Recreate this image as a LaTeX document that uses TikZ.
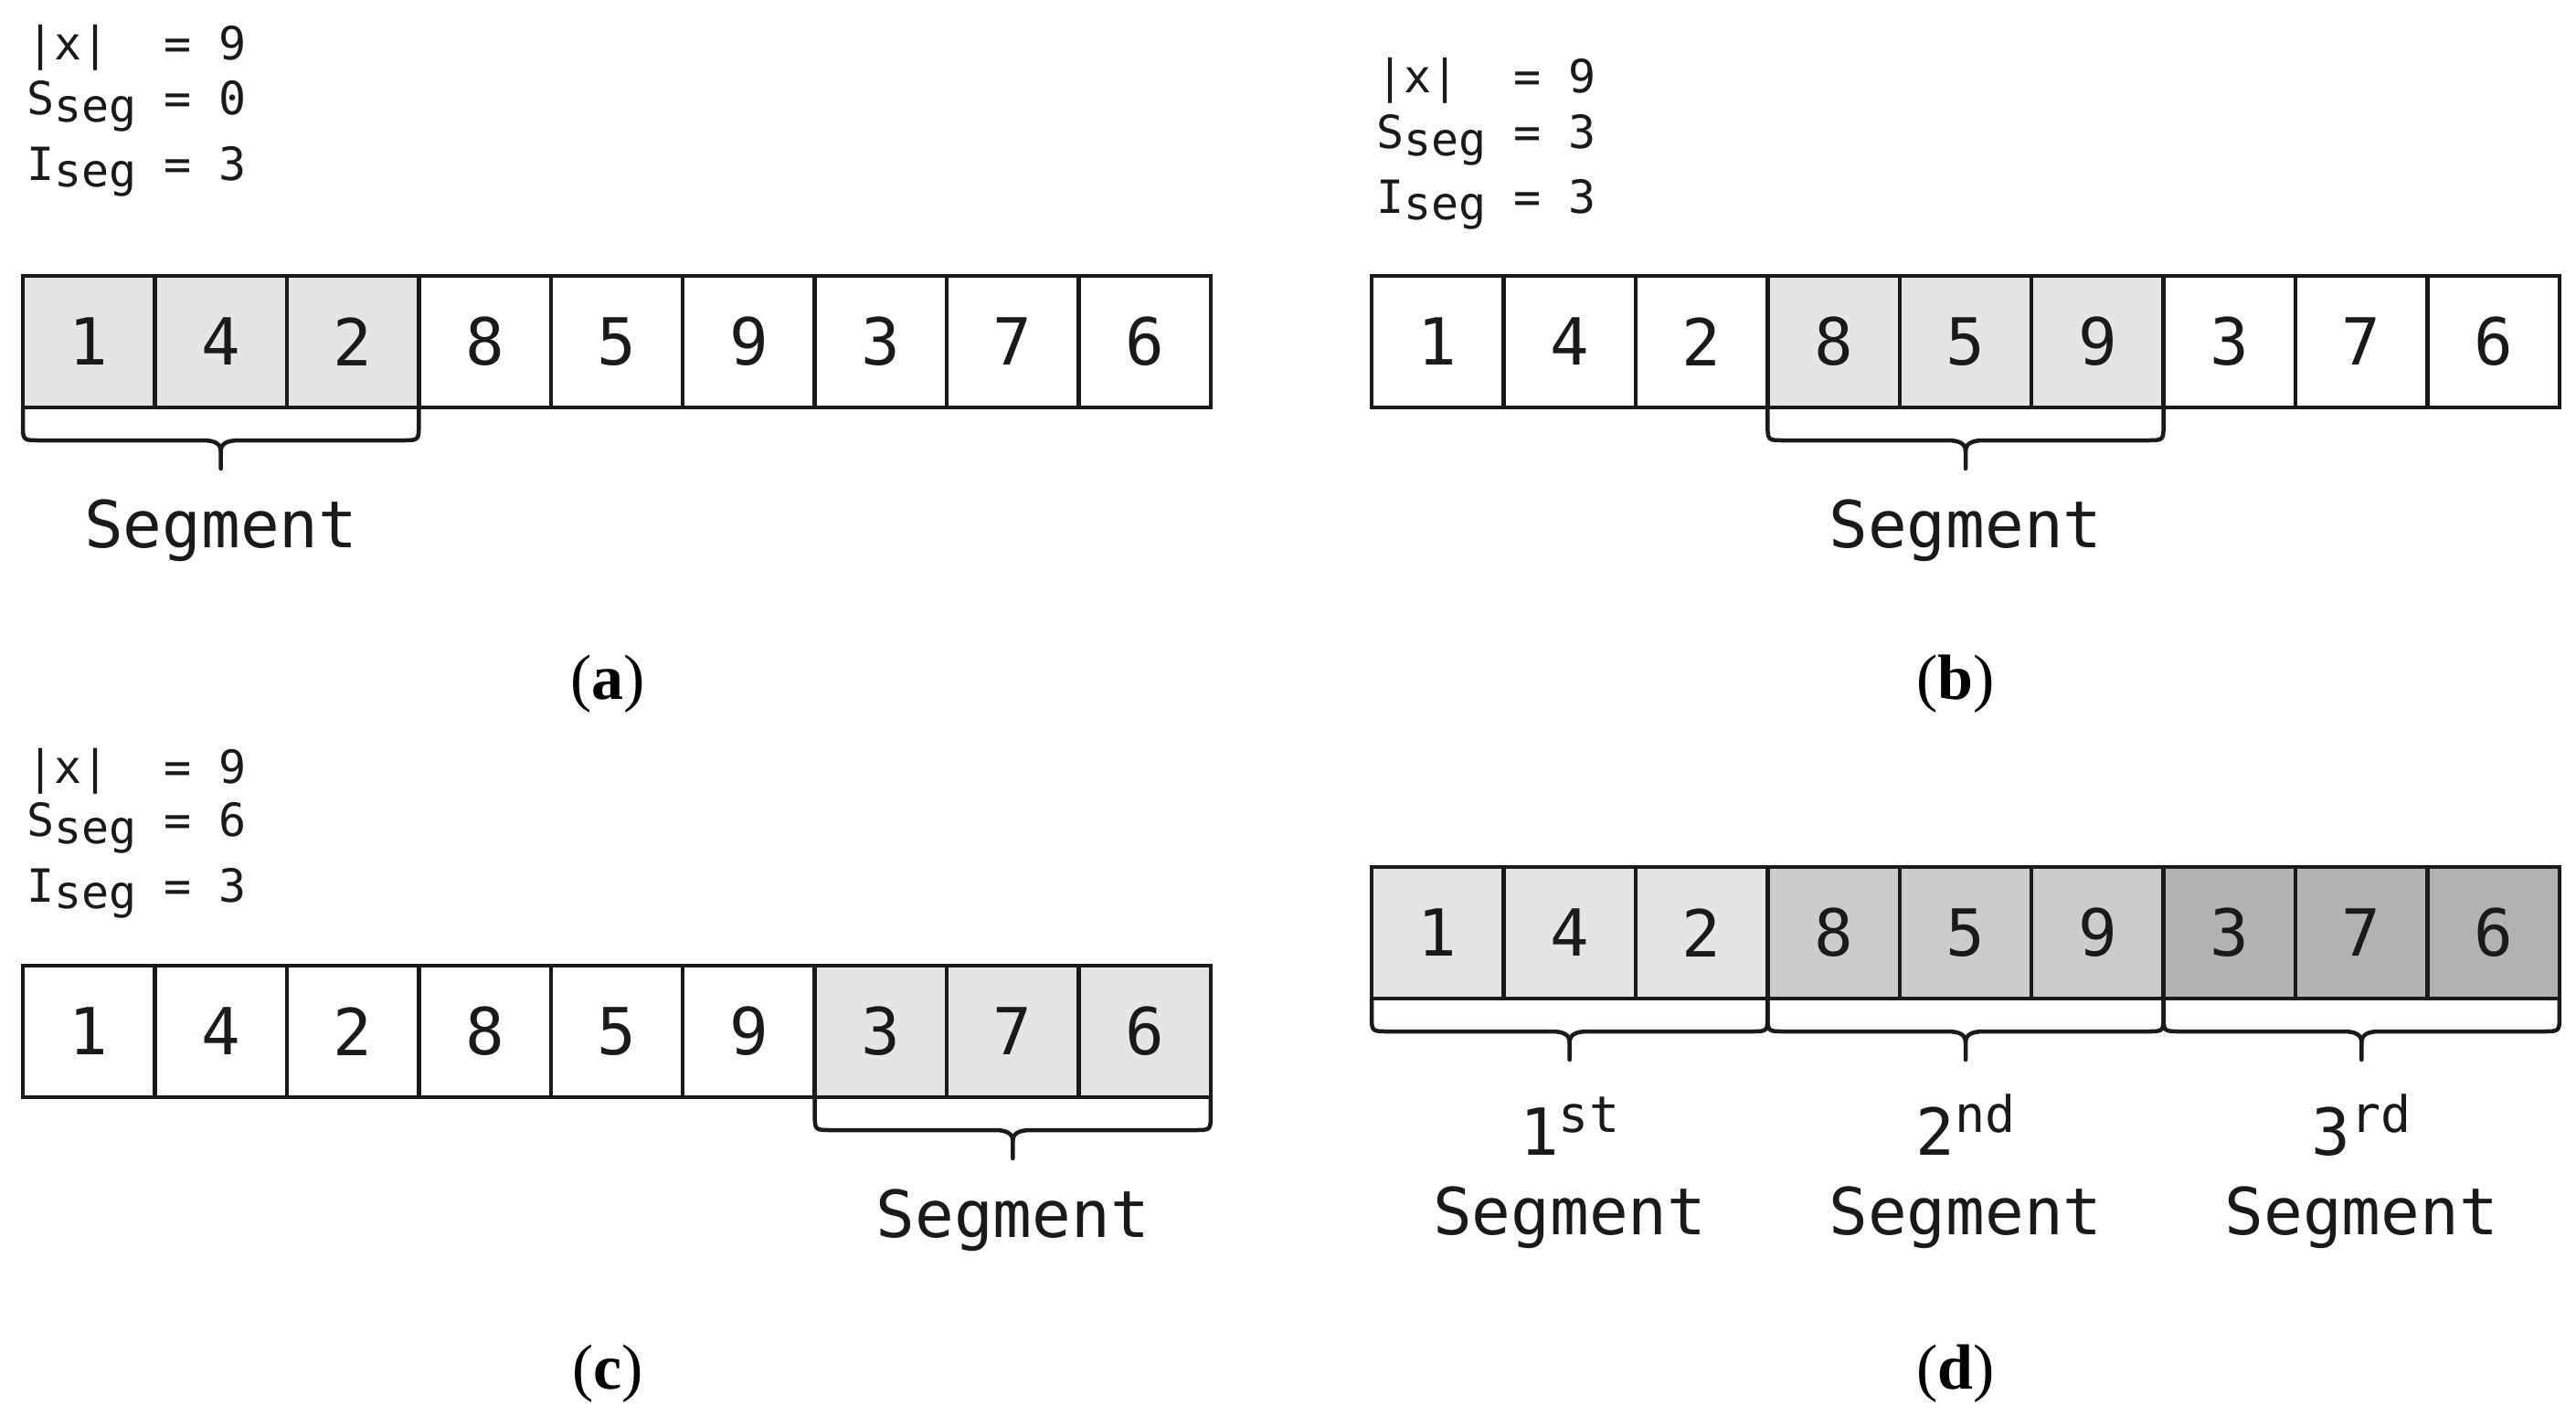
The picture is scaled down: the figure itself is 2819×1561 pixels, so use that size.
\documentclass[tikz,border=0pt]{standalone}
\usepackage{fontspec}
\setmonofont{DejaVu Sans Mono}
\newfontfamily\capserif{Liberation Serif}
\usetikzlibrary{calc}
\definecolor{lineC}{HTML}{1A1A1A}
\definecolor{segA}{HTML}{E5E5E5}
\definecolor{segB}{HTML}{CCCCCC}
\definecolor{segC}{HTML}{B2B2B2}
\newcommand\cellfont{\ttfamily\fontsize{71}{84}\selectfont}
\newcommand\infofont{\ttfamily\fontsize{50}{58}\selectfont}
\newcommand\supfont{\ttfamily\fontsize{55}{60}\selectfont}
\newcommand\captfont{\capserif\fontsize{70}{84}\selectfont}
\tikzset{
  cell/.style={draw=lineC, line width=4.5pt, minimum width=144.44pt, minimum height=144pt,
    inner sep=0pt, outer sep=0pt, anchor=north west, font=\cellfont, text=lineC},
  bracestyle/.style={draw=lineC, line width=4.5pt, line cap=round, line join=round},
  info/.style={anchor=base west, inner sep=0pt, font=\infofont, text=lineC},
  seglabel/.style={anchor=base, inner sep=0pt, font=\cellfont, text=lineC},
  caption/.style={anchor=base, inner sep=0pt, font=\captfont, text=black}
}
% #1 first cell, #2 last cell, #3 name prefix
\newcommand\segbrace[3]{%
  \coordinate (#3L) at (#1.south west);
  \coordinate (#3R) at (#2.south east);
  \coordinate (#3M) at ($(#3L)!0.5!(#3R)$);
  \coordinate (#3T) at ($(#3M)+(0,67)$);
  \draw[bracestyle] (#3L) -- ($(#3L)+(0,18)$) .. controls ($(#3L)+(0,36)$) .. ($(#3L)+(18,36)$)
    -- ($(#3M)+(-20,36)$) .. controls ($(#3M)+(-6,36)$) and ($(#3M)+(0,40)$) .. ($(#3M)+(0,48)$)
    -- (#3T);
  \draw[bracestyle] (#3R) -- ($(#3R)+(0,18)$) .. controls ($(#3R)+(0,36)$) .. ($(#3R)+(-18,36)$)
    -- ($(#3M)+(20,36)$) .. controls ($(#3M)+(6,36)$) and ($(#3M)+(0,40)$) .. ($(#3M)+(0,48)$);
}
\begin{document}
\begin{tikzpicture}[x=1pt,y=-1pt]
\fill[white] (0,0) rectangle (2819,1561);
\useasboundingbox (0,0) rectangle (2819,1561);

% ---------- (a)
\node[info] (ta1) at (29,65) {|x|\ \ =\ 9};
\node[info] (ta2) at (29,125) {S\raisebox{-8pt}{seg}\ =\ 0};
\node[info] (ta3) at (29,197) {I\raisebox{-7pt}{seg}\ =\ 3};
\foreach \v/\f [count=\i from 1] in {1/segA,4/segA,2/segA,8/white,5/white,9/white,3/white,7/white,6/white}
  \node[cell, fill=\f] (a\i) at ({25+(\i-1)*144.44},302) {\v};
\segbrace{a1}{a3}{ba}
\node[seglabel] (sa) at ($(baM)+(0,153)$) {Segment};
\node[caption] (capa) at (665,765) {(\textbf{a})};

% ---------- (b)
\node[info] (tb1) at (1506,101) {|x|\ \ =\ 9};
\node[info] (tb2) at (1506,162) {S\raisebox{-8pt}{seg}\ =\ 3};
\node[info] (tb3) at (1506,233) {I\raisebox{-7pt}{seg}\ =\ 3};
\foreach \v/\f [count=\i from 1] in {1/white,4/white,2/white,8/segA,5/segA,9/segA,3/white,7/white,6/white}
  \node[cell, fill=\f] (b\i) at ({1501+(\i-1)*144.44},302) {\v};
\segbrace{b4}{b6}{bb}
\node[seglabel] (sb) at ($(bbM)+(0,153)$) {Segment};
\node[caption] (capb) at (2140,765) {(\textbf{b})};

% ---------- (c)
\node[info] (tc1) at (29,857) {|x|\ \ =\ 9};
\node[info] (tc2) at (29,915) {S\raisebox{-8pt}{seg}\ =\ 6};
\node[info] (tc3) at (29,987) {I\raisebox{-7pt}{seg}\ =\ 3};
\foreach \v/\f [count=\i from 1] in {1/white,4/white,2/white,8/white,5/white,9/white,3/segA,7/segA,6/segA}
  \node[cell, fill=\f] (c\i) at ({25+(\i-1)*144.44},1057) {\v};
\segbrace{c7}{c9}{bc}
\node[seglabel] (sc) at ($(bcM)+(0,153)$) {Segment};
\node[caption] (capc) at (665,1520) {(\textbf{c})};

% ---------- (d)
\foreach \v/\f [count=\i from 1] in {1/segA,4/segA,2/segA,8/segB,5/segB,9/segB,3/segC,7/segC,6/segC}
  \node[cell, fill=\f] (d\i) at ({1501+(\i-1)*144.44},949) {\v};
\segbrace{d1}{d3}{bd1}
\segbrace{d4}{d6}{bd2}
\segbrace{d7}{d9}{bd3}
\node[seglabel] (od1) at ($(bd1M)+(0,171)$) {1\raisebox{25pt}{\supfont st}};
\node[seglabel] (od2) at ($(bd2M)+(0,171)$) {2\raisebox{25pt}{\supfont nd}};
\node[seglabel] (od3) at ($(bd3M)+(0,171)$) {3\raisebox{25pt}{\supfont rd}};
\node[seglabel] (sd1) at ($(bd1M)+(0,258)$) {Segment};
\node[seglabel] (sd2) at ($(bd2M)+(0,258)$) {Segment};
\node[seglabel] (sd3) at ($(bd3M)+(0,258)$) {Segment};
\node[caption] (capd) at (2140,1520) {(\textbf{d})};
\end{tikzpicture}
\end{document}
